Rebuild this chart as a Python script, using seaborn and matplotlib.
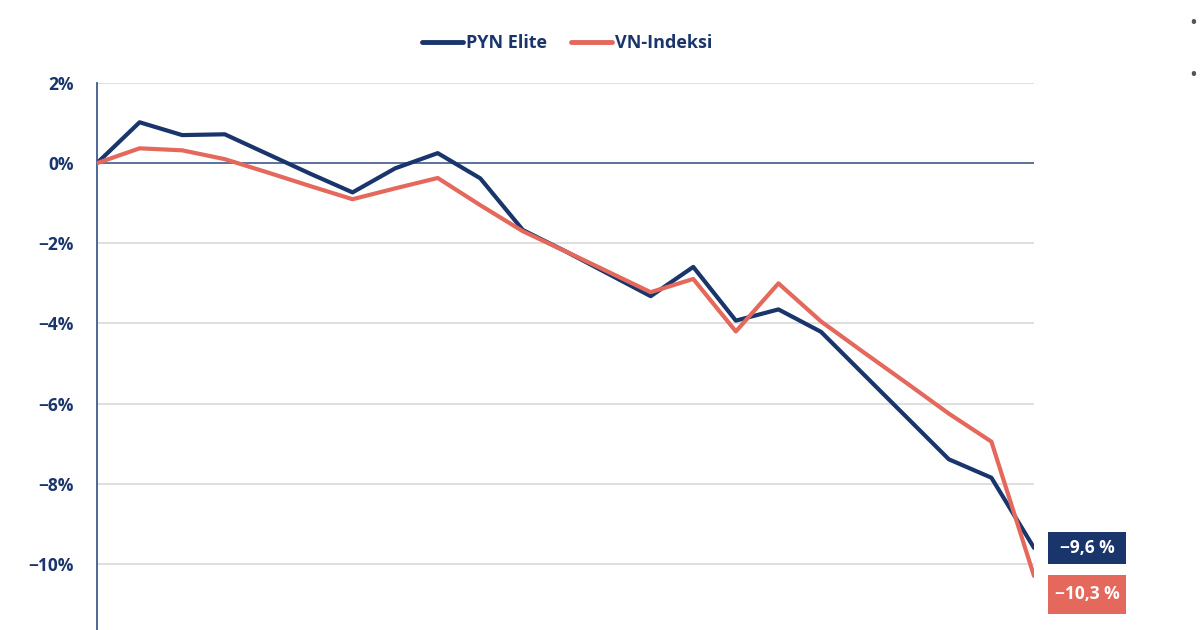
import matplotlib
matplotlib.use("Agg")
import matplotlib.pyplot as plt
import seaborn as sns
import pandas as pd
from matplotlib.lines import Line2D
from matplotlib.patches import Rectangle

# ---- data ----
periods = list(range(23))
pyn_elite = [0.0, 1.02, 0.70, 0.72, 0.23, -0.26, -0.73, -0.13, 0.25, -0.38, -1.67,
             -2.20, -2.76, -3.32, -2.59, -3.93, -3.65, -4.21, -5.27, -6.33, -7.39, -7.85, -9.6]
vn_index = [0.0, 0.37, 0.32, 0.10, -0.23, -0.57, -0.90, -0.63, -0.37, -1.05, -1.70,
            -2.20, -2.71, -3.22, -2.89, -4.20, -3.00, -3.95, -4.72, -5.48, -6.25, -6.95, -10.3]
series_names = ["PYN Elite", "VN-Indeksi"]
end_labels = ["-9,6 %", "-10,3 %"]
yticks = [2, 0, -2, -4, -6, -8, -10]

NAVY = "#19356b"
RED = "#e4685c"
palette = {series_names[0]: NAVY, series_names[1]: RED}

df = pd.DataFrame({
    "period": periods * 2,
    "value": pyn_elite + vn_index,
    "series": [series_names[0]] * len(periods) + [series_names[1]] * len(periods),
})

sns.set_theme(style="white")
plt.rcParams["font.family"] = ["Open Sans", "DejaVu Sans"]

W, H = 1200, 630
fig = plt.figure(figsize=(12, 6.3), dpi=100)
fig.patch.set_facecolor("white")
ax = fig.add_axes([97 / W, 0, (1034 - 97) / W, (630 - 83) / H])

# grid lines
for t in yticks:
    if t == 0:
        continue
    ax.axhline(t, color="#d9d9d9", lw=1.2, zorder=0)
ax.axhline(0, color="#3f5a8c", lw=1.2, zorder=1)

sns.lineplot(data=df, x="period", y="value", hue="series", palette=palette,
             linewidth=3.0, ax=ax, legend=False, zorder=3)

ax.set_xlim(0, 22)
ax.set_ylim(-11.65, 2)
ax.set_xlabel("")
ax.set_ylabel("")
ax.set_xticks([])
ax.set_yticks(yticks)
ax.set_yticklabels([f"{t}%".replace("-", "\u2212") for t in yticks],
                   fontsize=12.5, fontweight="bold", color=NAVY)
ax.tick_params(axis="y", length=0, pad=17)
for side in ["top", "right", "bottom"]:
    ax.spines[side].set_visible(False)
ax.spines["left"].set_color("#3f5a8c")
ax.spines["left"].set_linewidth(1.3)

# end labels: fixed-size boxes right of the last point
finals = [pyn_elite[-1], vn_index[-1]]
colors = [NAVY, RED]
box_specs = [(0, 32), (18.5, 39)]  # (downward offset px, box height px)
x_end_px = ax.transData.transform((periods[-1], 0))[0]
for val, lab, c, (dy, bh) in zip(finals, end_labels, colors, box_specs):
    y_px = ax.transData.transform((periods[-1], val))[1] - dy
    x0 = x_end_px + 14
    bw = 78
    rect = Rectangle((x0 / W, (y_px - bh / 2) / H), bw / W, bh / H,
                     transform=fig.transFigure, facecolor=c, edgecolor="none", zorder=5)
    fig.patches.append(rect)
    fig.text((x0 + bw / 2) / W, y_px / H, lab.replace("-", "\u2212"), ha="center", va="center",
             fontsize=12.5, fontweight="bold", color="white", zorder=6)

# legend
handles = [Line2D([0], [0], color=NAVY, lw=3.5, solid_capstyle="round"),
           Line2D([0], [0], color=RED, lw=3.5, solid_capstyle="round")]
leg = fig.legend(handles, series_names, loc="center", bbox_to_anchor=(567 / W, 1 - 43 / H),
                 ncol=2, frameon=False, handlelength=2.3, handletextpad=0.15, columnspacing=1.3,
                 prop={"size": 13, "weight": "bold"})
for t in leg.get_texts():
    t.set_color(NAVY)

# stray bullets at right edge (page artifact)
for yy in [24, 75]:
    fig.text(1193 / W, 1 - yy / H, "\u2022", ha="center", va="center", color="#555555", fontsize=15)

fig.savefig("out.png", dpi=100, facecolor="white")
